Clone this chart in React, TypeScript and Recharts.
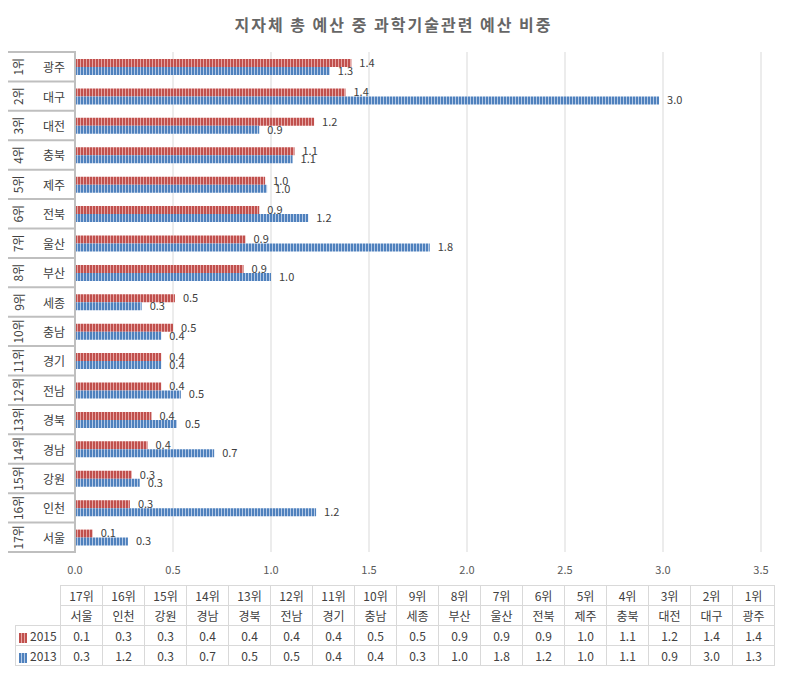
import { Bar, BarChart, CartesianGrid, LabelList, XAxis, YAxis } from 'recharts';

const regions = ['광주', '대구', '대전', '충북', '제주', '전북', '울산', '부산', '세종', '충남', '경기', '전남', '경북', '경남', '강원', '인천', '서울'];
const ranks = ['1위', '2위', '3위', '4위', '5위', '6위', '7위', '8위', '9위', '10위', '11위', '12위', '13위', '14위', '15위', '16위', '17위'];
const share2015 = [1.41, 1.38, 1.22, 1.12, 0.97, 0.94, 0.87, 0.86, 0.51, 0.5, 0.44, 0.44, 0.39, 0.37, 0.29, 0.28, 0.09];
const share2013 = [1.3, 2.98, 0.94, 1.11, 0.98, 1.19, 1.81, 1.0, 0.34, 0.44, 0.44, 0.54, 0.52, 0.71, 0.33, 1.23, 0.27];
const xTicks = [0, 0.5, 1, 1.5, 2, 2.5, 3, 3.5];

const rows = regions.map((name, i) => ({ name, rank: ranks[i], y2015: share2015[i], y2013: share2013[i] }));

const FONT = '"Noto Sans CJK KR", "Noto Sans", sans-serif';
const BAND = 500 / regions.length;

const RegionTick = (props: any) => {
  const { y, payload } = props;
  const i = regions.indexOf(payload.value);
  const top = y - BAND / 2;
  const bottom = y + BAND / 2;
  return (
    <g>
      {i === 0 && <line x1={6} x2={76} y1={top} y2={top} stroke="#bfbfbf" strokeWidth={2} />}
      <line x1={7} x2={7} y1={top + 2} y2={bottom - 1} stroke="#d0d0d0" />
      <line x1={6} x2={76} y1={bottom} y2={bottom} stroke="#bfbfbf" strokeWidth={2} />
      <text
        x={18}
        y={y}
        transform={`rotate(-90 18 ${y})`}
        textAnchor="middle"
        dominantBaseline="central"
        fontSize={12}
        fill="#404040"
        fontFamily={FONT}
      >
        {ranks[i]}
      </text>
      <text x={54} y={y} textAnchor="middle" dominantBaseline="central" fontSize={12} fill="#404040" fontFamily={FONT}>
        {payload.value}
      </text>
    </g>
  );
};

const Swatch = ({ dark, light }: { dark: string; light: string }) => (
  <svg width={8} height={10} style={{ verticalAlign: 'middle', marginRight: 3 }}>
    <rect width={8} height={10} fill={light} />
    {[0, 3, 6].map((x) => (
      <rect key={x} x={x} width={2} height={10} fill={dark} />
    ))}
  </svg>
);

const cell: React.CSSProperties = {
  border: '1px solid #d9d9d9',
  width: 41,
  height: 19,
  padding: 0,
  textAlign: 'center',
  fontSize: 12,
  color: '#404040',
};

const App = () => {
  const tableRows = [...rows].reverse();
  return (
    <div style={{ margin: -8, position: 'relative', width: 787, height: 681, fontFamily: FONT, background: '#fff' }}>
      <div
        style={{
          position: 'absolute',
          left: 0,
          top: 0,
          width: 784,
          height: 677,
          border: '1px solid #d9d9d9',
          boxSizing: 'content-box',
        }}
      />
      <div
        style={{
          position: 'absolute',
          top: 12,
          left: 0,
          width: 787,
          textAlign: 'center',
          fontSize: 16,
          fontWeight: 'bold',
          letterSpacing: 2,
          color: '#666666',
        }}
      >
        지자체 총 예산 중 과학기술관련 예산 비중
      </div>
      <div style={{ position: 'absolute', left: 0, top: 0 }}>
        <BarChart
          width={787}
          height={681}
          data={rows}
          layout="vertical"
          margin={{ top: 52, right: 26, left: 0, bottom: 99 }}
          barSize={8}
          barGap={0}
        >
          <defs>
            <pattern id="pat2015" width={3} height={4} patternUnits="userSpaceOnUse">
              <rect width={3} height={4} fill="#e6a5a3" />
              <rect width={2} height={4} fill="#c0504d" />
            </pattern>
            <pattern id="pat2013" width={3} height={4} patternUnits="userSpaceOnUse">
              <rect width={3} height={4} fill="#b4c9e6" />
              <rect width={2} height={4} fill="#4f81bd" />
            </pattern>
          </defs>
          <CartesianGrid horizontal={false} stroke="#d9d9d9" />
          <XAxis
            type="number"
            domain={[0, 3.5]}
            ticks={xTicks}
            tickFormatter={(v: number) => v.toFixed(1)}
            axisLine={false}
            tickLine={false}
            height={30}
            tick={{ fontSize: 11, fill: '#595959', fontFamily: FONT }}
            tickMargin={8}
          />
          <YAxis
            type="category"
            dataKey="name"
            width={75}
            axisLine={{ stroke: '#bfbfbf', strokeWidth: 2 }}
            tickLine={false}
            tick={<RegionTick />}
            interval={0}
          />
          <Bar dataKey="y2015" fill="url(#pat2015)" isAnimationActive={false}>
            <LabelList
              dataKey="y2015"
              position="right"
              offset={8}
              formatter={(v: any) => Number(v).toFixed(1)}
              style={{ fontSize: 11, fill: '#404040', fontFamily: FONT }}
            />
          </Bar>
          <Bar dataKey="y2013" fill="url(#pat2013)" isAnimationActive={false}>
            <LabelList
              dataKey="y2013"
              position="right"
              offset={8}
              formatter={(v: any) => Number(v).toFixed(1)}
              style={{ fontSize: 11, fill: '#404040', fontFamily: FONT }}
            />
          </Bar>
        </BarChart>
      </div>
      <table style={{ position: 'absolute', left: 15, top: 585, borderCollapse: 'collapse', tableLayout: 'fixed' }}>
        <tbody>
          <tr>
            <td style={{ ...cell, width: 41, border: 'none' }} />
            {tableRows.map((r) => (
              <td key={r.rank} style={cell}>{r.rank}</td>
            ))}
          </tr>
          <tr>
            <td style={{ ...cell, border: 'none' }} />
            {tableRows.map((r) => (
              <td key={r.name} style={cell}>{r.name}</td>
            ))}
          </tr>
          <tr>
            <td style={{ ...cell, textAlign: 'left', paddingLeft: 3 }}>
              <Swatch dark="#c0504d" light="#e6a5a3" />2015
            </td>
            {tableRows.map((r) => (
              <td key={r.name} style={cell}>{r.y2015.toFixed(1)}</td>
            ))}
          </tr>
          <tr>
            <td style={{ ...cell, textAlign: 'left', paddingLeft: 3 }}>
              <Swatch dark="#4f81bd" light="#b4c9e6" />2013
            </td>
            {tableRows.map((r) => (
              <td key={r.name} style={cell}>{r.y2013.toFixed(1)}</td>
            ))}
          </tr>
        </tbody>
      </table>
    </div>
  );
};

export default App;
